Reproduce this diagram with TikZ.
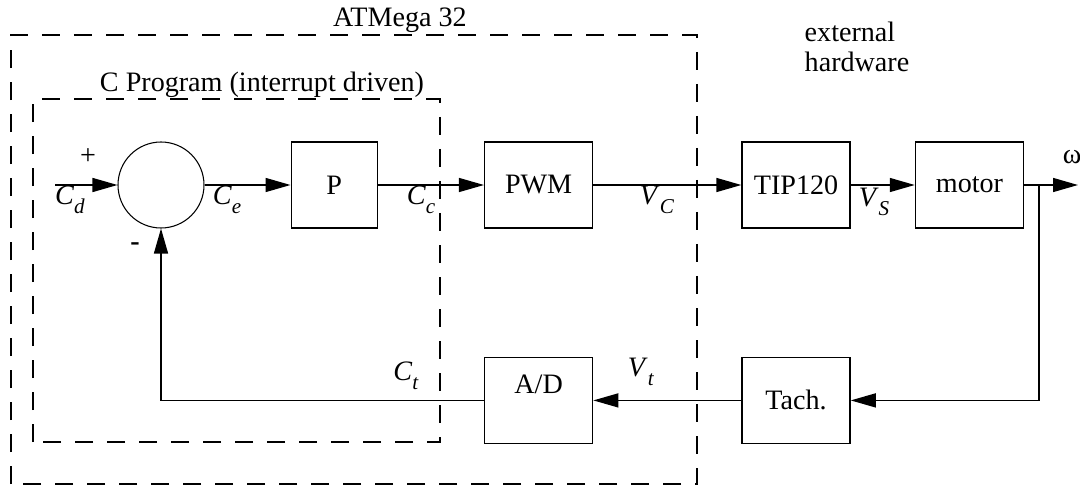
\documentclass[tikz,border=0pt]{standalone}
\usepackage{fontspec}
\setmainfont{Liberation Serif}
\usetikzlibrary{positioning,arrows.meta}
\newcommand{\sig}[2]{\textit{#1}\raisebox{-0.32em}{\fontsize{12}{12}\selectfont\textit{#2}}}

\begin{document}
\begin{tikzpicture}[node distance=1.4cm,
  every node/.style={font=\fontsize{16}{17}\selectfont},
  block/.style={draw, line width=0.8pt, minimum width=2.16cm, minimum height=1.72cm, inner sep=0pt},
  sumnode/.style={draw, circle, line width=0.6pt, minimum size=1.72cm, inner sep=0pt},
  wire/.style={line width=0.8pt},
  arr/.style={wire, -{Triangle[length=0.5cm,width=0.28cm]}},
  region/.style={draw, line width=0.8pt, dash pattern=on 0.36cm off 0.28cm}]
  \useasboundingbox (0,0) rectangle (21.6,9.72);
  \draw[region] (0.22,0.04) rectangle (13.94,9.02);
  \draw[region] (0.66,0.88) rectangle (8.80,7.74);
  \node (atmega) at (8.0,9.32) {ATMega 32};
  \node (cprog) at (5.24,8.02) {C Program (interrupt driven)};
  \node[align=left] (ext) at (17.14,8.78) {external\\hardware};
  \node[sumnode] (sum) at (3.22,6.02) {};
  \node[block, minimum width=1.72cm, right=1.72cm of sum] (P) {P};
  \node[block, right=2.12cm of P] (pwm) {PWM};
  \node[block, right=2.96cm of pwm] (tip) {TIP120};
  \node[block, right=1.28cm of tip] (motor) {motor};
  \node[block, below=2.56cm of tip] (tach) {Tach.};
  \node[block, below=2.56cm of pwm, text height=0.4cm, text depth=0.67cm] (ad) {A/D};
  \coordinate (in) at (1.10,6.02);
  \coordinate (tap) at (20.78,6.02);
  \coordinate (out) at (21.56,6.02);
  \draw[arr] (in) -- (sum);
  \draw[arr] (sum) -- (P);
  \draw[arr] (P) -- (pwm);
  \draw[arr] (pwm) -- (tip);
  \draw[arr] (tip) -- (motor);
  \draw[arr] (motor) -- (out);
  \draw[arr] (tap) |- (tach);
  \draw[arr] (tach) -- (ad);
  \draw[arr] (ad) -| (sum);
  \node (plus) at (1.76,6.58) {+};
  \node (minus) at (2.70,4.78) {\textbf{-}};
  \node (cd) at (1.40,5.72) {\sig{C}{d}};
  \node (ce) at (4.54,5.72) {\sig{C}{e}};
  \node (cc) at (8.42,5.72) {\sig{C}{c}};
  \node (vc) at (13.14,5.72) {\sig{V}{C}};
  \node (vs) at (17.48,5.68) {\sig{V}{S}};
  \node (omega) at (21.44,6.58) {ω};
  \node (ct) at (8.12,2.20) {\sig{C}{t}};
  \node (vt) at (12.82,2.28) {\sig{V}{t}};
\end{tikzpicture}
\end{document}
